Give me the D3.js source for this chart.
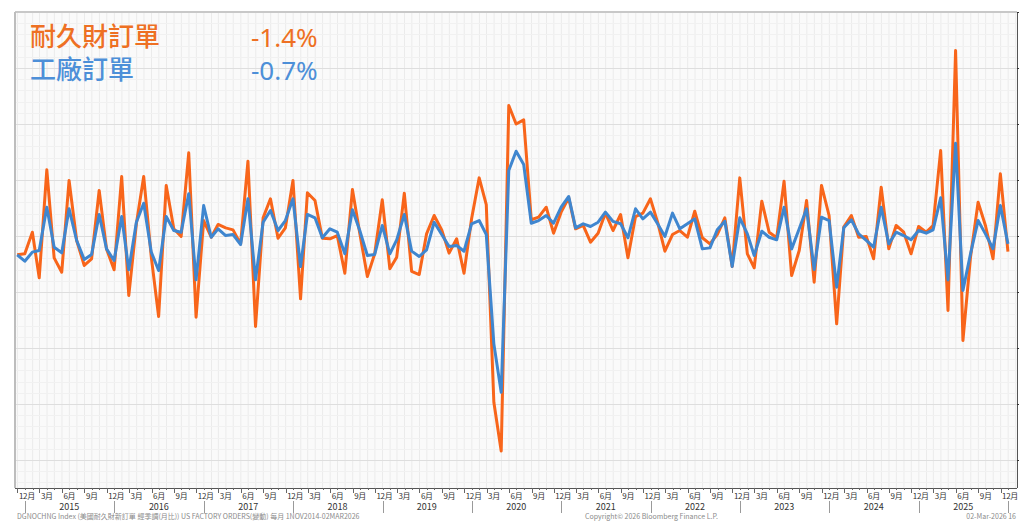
<!DOCTYPE html>
<html lang="zh-Hant">
<head>
    <meta charset="UTF-8">
    <title>耐久財訂單 vs 工廠訂單</title>
    <script src="https://cdn.jsdelivr.net/npm/d3@7"></script>
    <style>
        body { margin: 0; background: #ffffff; }
        svg { display: block; }
    </style>
</head>
<body>
    <div id="grafico"></div>
    <script type="text/javascript">

        // monthly series, Nov 2014 .. Dec 2025 (% m/m)
        var startYear = 2014, startMonth = 10;

        var durable = [-1.68, -1.59, 0.34, -3.73, 5.91, -1.95, -3.23, 4.96, -0.40, -2.63,
                       -2.04, 4.06, -1.15, -3.02, 5.31, -5.31, 1.09, 5.31, -1.89, -7.19,
                       4.51, 0.64, -0.04, 7.43, -7.25, 1.38, -0.11, 1.03, 0.73, 0.55,
                       -0.70, 6.68, -8.08, 1.62, 3.32, -0.20, 0.73, 4.96, -5.61, 3.86,
                       3.17, -0.20, -0.25, 0.04, -3.32, 4.15, 0.25, -3.62, -1.59, 3.23,
                       -2.93, -1.89, 3.82, -3.15, -3.44, 0.19, 1.83, 0.55, -1.53, -0.25,
                       -3.32, 1.54, 5.19, 2.81, -14.84, -19.20, 11.65, 10.00, 10.37, 1.45,
                       1.68, 2.57, 0.25, 2.13, 3.41, 0.64, 0.94, -0.55, 0.25, 2.05,
                       0.49, 1.92, -1.95, 1.74, 2.04, 3.32, 1.09, -1.36, 0.13, 0.49,
                       -0.11, 2.21, -0.16, -0.70, 0.13, 1.62, -2.72, 5.19, -1.59, -2.84,
                       3.11, 0.34, -0.16, 4.89, -3.53, -1.29, 3.17, -4.12, 4.51, 1.83,
                       -7.84, 0.79, 1.83, -0.11, -0.05, -2.03, 4.36, -1.14, 0.94, 0.34,
                       -1.59, 0.85, 0.34, 0.94, 7.63, -6.65, 16.56, -9.33, -1.89, 3.02,
                       0.94, -2.03, 5.55, -1.40];

        var factory = [-1.68, -2.25, -1.44, -1.29, 2.57, -1.00, -1.50, 2.43, -0.40, -2.10,
                       -1.65, 1.92, -1.15, -2.19, 1.74, -3.02, 1.23, 2.93, -1.44, -3.08,
                       1.74, 0.49, 0.34, 3.77, -3.91, 2.72, -0.11, 0.64, 0.04, 0.13,
                       -0.76, 3.32, -3.91, 1.23, 2.28, 0.49, 1.38, 3.32, -2.72, 1.92,
                       1.62, -0.16, 0.64, 0.34, -1.59, 2.34, 0.49, -1.74, -1.65, 0.94,
                       -1.59, -0.34, 1.92, -1.35, -1.83, -1.23, 1.23, 0.13, -0.94, -0.85,
                       -1.36, 1.09, 1.38, 0.13, -9.63, -13.95, 5.85, 7.57, 6.38, 1.14,
                       1.38, 1.83, 1.14, 2.57, 3.53, 0.73, 1.09, 0.85, 1.23, 2.13,
                       1.30, 1.09, -0.16, 2.43, 1.53, 2.13, 1.03, -0.04, 2.04, 0.64,
                       1.09, 1.53, -1.15, -1.06, 0.55, 1.32, -2.72, 1.62, 0.19, -1.74,
                       0.43, -0.11, -0.34, 2.57, -1.15, 0.64, 2.43, -3.00, 1.68, 1.38,
                       -4.57, 0.73, 1.45, 0.19, -0.40, -1.00, 2.57, -0.70, 0.34, 0.04,
                       -0.34, 0.49, 0.25, 0.55, 3.41, -3.92, 8.29, -4.87, -1.59, 1.38,
                       0.19, -1.14, 2.72, -0.70];

        var seriesNames = ["耐久財訂單", "工廠訂單"];
        var lastLabels = ["-1.4%", "-0.7%"];
        var monthLabels = {2: "3月", 5: "6月", 8: "9月", 11: "12月"};
        var years = [2015, 2016, 2017, 2018, 2019, 2020, 2021, 2022, 2023, 2024, 2025];
        var footLeft = "DGNOCHNG Index (美國耐久財新訂單 經季調(月比)) US FACTORY ORDERS(變動) 每月 1NOV2014-02MAR2026";
        var footMid = "Copyright© 2026 Bloomberg Finance L.P.";
        var footRight = "02-Mar-2026 16";

        //Width and height
        var w = 1019;
        var h = 521;
        var plot = {left: 15, right: 1017, top: 12, bottom: 488};

        var orange = "#f8651a";
        var blue = "#3f86cf";

        // data points sit at month end, as Bloomberg plots them
        var dates = durable.map(function(d, i) {
            return new Date(startYear, startMonth + i + 1, 0);
        });

        var xScale = d3.scaleTime()
                        .domain([new Date(2014, 10, 21), new Date(2026, 1, 6)])
                        .range([plot.left, plot.right]);

        var yScale = d3.scaleLinear()
                        .domain([-22.5, 20])
                        .range([plot.bottom, plot.top]);

        //Create SVG element
        var grafico = d3.select("#grafico")
                    .append("svg")
                    .attr("width", w)
                    .attr("height", h);

        // plot background
        grafico.append("rect")
            .attr("x", plot.left)
            .attr("y", plot.top)
            .attr("width", plot.right - plot.left)
            .attr("height", plot.bottom - plot.top)
            .attr("fill", "#fafafa");

        // monthly vertical grid
        var months = d3.timeMonth.range(xScale.domain()[0], xScale.domain()[1]);
        grafico.append("g").selectAll("line")
            .data(months)
            .enter()
            .append("line")
            .attr("x1", function(d) { return xScale(d); })
            .attr("x2", function(d) { return xScale(d); })
            .attr("y1", plot.top)
            .attr("y2", plot.bottom)
            .attr("stroke", "#ebebeb")
            .attr("stroke-width", 1);

        // horizontal grid, minor every 1 and major every 5
        var minorY = d3.range(-22, 21, 1);
        grafico.append("g").selectAll("line")
            .data(minorY)
            .enter()
            .append("line")
            .attr("x1", plot.left)
            .attr("x2", plot.right)
            .attr("y1", function(d) { return Math.round(yScale(d)) + 0.5; })
            .attr("y2", function(d) { return Math.round(yScale(d)) + 0.5; })
            .attr("stroke", function(d) { return d % 5 === 0 ? "#dedede" : "#f1f1f1"; })
            .attr("stroke-width", 1);

        // frame
        grafico.append("line")
            .attr("x1", plot.left).attr("x2", plot.right)
            .attr("y1", plot.top).attr("y2", plot.top)
            .attr("stroke", "#c8c8c8").attr("stroke-width", 2);
        grafico.append("line")
            .attr("x1", plot.left).attr("x2", plot.left)
            .attr("y1", plot.top).attr("y2", plot.bottom)
            .attr("stroke", "#bdbdbd").attr("stroke-width", 2);
        grafico.append("line")
            .attr("x1", plot.left).attr("x2", plot.right)
            .attr("y1", plot.bottom + 0.5).attr("y2", plot.bottom + 0.5)
            .attr("stroke", "#555555").attr("stroke-width", 1);
        grafico.append("line")
            .attr("x1", plot.right + 0.5).attr("x2", plot.right + 0.5)
            .attr("y1", plot.top).attr("y2", plot.bottom)
            .attr("stroke", "#555555").attr("stroke-width", 1);

        // right axis ticks (labels are outside the picture)
        grafico.append("g").selectAll("line")
            .data(d3.range(-20, 21, 5))
            .enter()
            .append("line")
            .attr("x1", plot.right)
            .attr("x2", plot.right + 4)
            .attr("y1", function(d) { return Math.round(yScale(d)) + 0.5; })
            .attr("y2", function(d) { return Math.round(yScale(d)) + 0.5; })
            .attr("stroke", "#333333");

        // lines
        var line = d3.line()
            .x(function(d, i) { return xScale(dates[i]); })
            .y(function(d) { return yScale(d); });

        grafico.append("path")
            .datum(durable)
            .attr("d", line)
            .attr("fill", "none")
            .attr("stroke", orange)
            .attr("stroke-width", 3)
            .attr("stroke-linejoin", "round");

        grafico.append("path")
            .datum(factory)
            .attr("d", line)
            .attr("fill", "none")
            .attr("stroke", blue)
            .attr("stroke-width", 3)
            .attr("stroke-linejoin", "round");

        // legend
        var legendText = ["#ee7023", "#4d8fd8"];
        seriesNames.forEach(function(name, i) {
            grafico.append("text")
                .text(name)
                .attr("x", 30)
                .attr("y", 46 + i * 33)
                .attr("font-family", "'Noto Sans CJK TC', sans-serif")
                .attr("font-size", "26px")
                .attr("font-weight", 500)
                .attr("fill", legendText[i]);
            grafico.append("text")
                .text(lastLabels[i])
                .attr("x", 251)
                .attr("y", 47 + i * 33)
                .attr("font-family", "'Noto Sans', sans-serif")
                .attr("font-size", "26px")
                .attr("fill", legendText[i]);
        });

        // x axis: month ticks and quarter labels
        var axisFont = "'Noto Sans CJK TC', sans-serif";
        var tickMonths = d3.timeMonth.range(new Date(2014, 11, 1), new Date(2026, 0, 2));
        grafico.append("g").selectAll("line")
            .data(tickMonths)
            .enter()
            .append("line")
            .attr("x1", function(d) { return Math.round(xScale(d)) + 0.5; })
            .attr("x2", function(d) { return Math.round(xScale(d)) + 0.5; })
            .attr("y1", plot.bottom)
            .attr("y2", function(d) { return monthLabels[d.getMonth()] ? plot.bottom + 5 : plot.bottom + 2; })
            .attr("stroke", "#666666");

        grafico.append("g").selectAll("text")
            .data(tickMonths.filter(function(d) { return monthLabels[d.getMonth()]; }))
            .enter()
            .append("text")
            .text(function(d) { return monthLabels[d.getMonth()]; })
            .attr("x", function(d) { return xScale(d) + 1.5; })
            .attr("y", 499)
            .attr("font-family", axisFont)
            .attr("font-size", "8px")
            .attr("letter-spacing", "-0.3px")
            .attr("fill", "#333333");

        // year separators and labels
        grafico.append("g").selectAll("line")
            .data(years.concat([2026]))
            .enter()
            .append("line")
            .attr("x1", function(d) { return Math.round(xScale(new Date(d, 0, 1))) + 0.5; })
            .attr("x2", function(d) { return Math.round(xScale(new Date(d, 0, 1))) + 0.5; })
            .attr("y1", 501)
            .attr("y2", 513)
            .attr("stroke", "#9a9a9a");

        grafico.append("g").selectAll("text")
            .data(years)
            .enter()
            .append("text")
            .text(function(d) { return d; })
            .attr("x", function(d) { return xScale(new Date(d, 6, 1)); })
            .attr("y", 510)
            .attr("text-anchor", "middle")
            .attr("font-family", axisFont)
            .attr("font-size", "9px")
            .attr("fill", "#333333");

        // footer
        grafico.append("text")
            .text(footLeft)
            .attr("x", 17).attr("y", 519)
            .attr("font-family", axisFont)
            .attr("font-size", "7px")
            .attr("fill", "#8a8a8a");
        grafico.append("text")
            .text(footMid)
            .attr("x", 585).attr("y", 519)
            .attr("font-family", axisFont)
            .attr("font-size", "7px")
            .attr("fill", "#8a8a8a");
        grafico.append("text")
            .text(footRight)
            .attr("x", 1016).attr("y", 519)
            .attr("text-anchor", "end")
            .attr("font-family", axisFont)
            .attr("font-size", "7px")
            .attr("fill", "#8a8a8a");

    </script>
</body>
</html>
